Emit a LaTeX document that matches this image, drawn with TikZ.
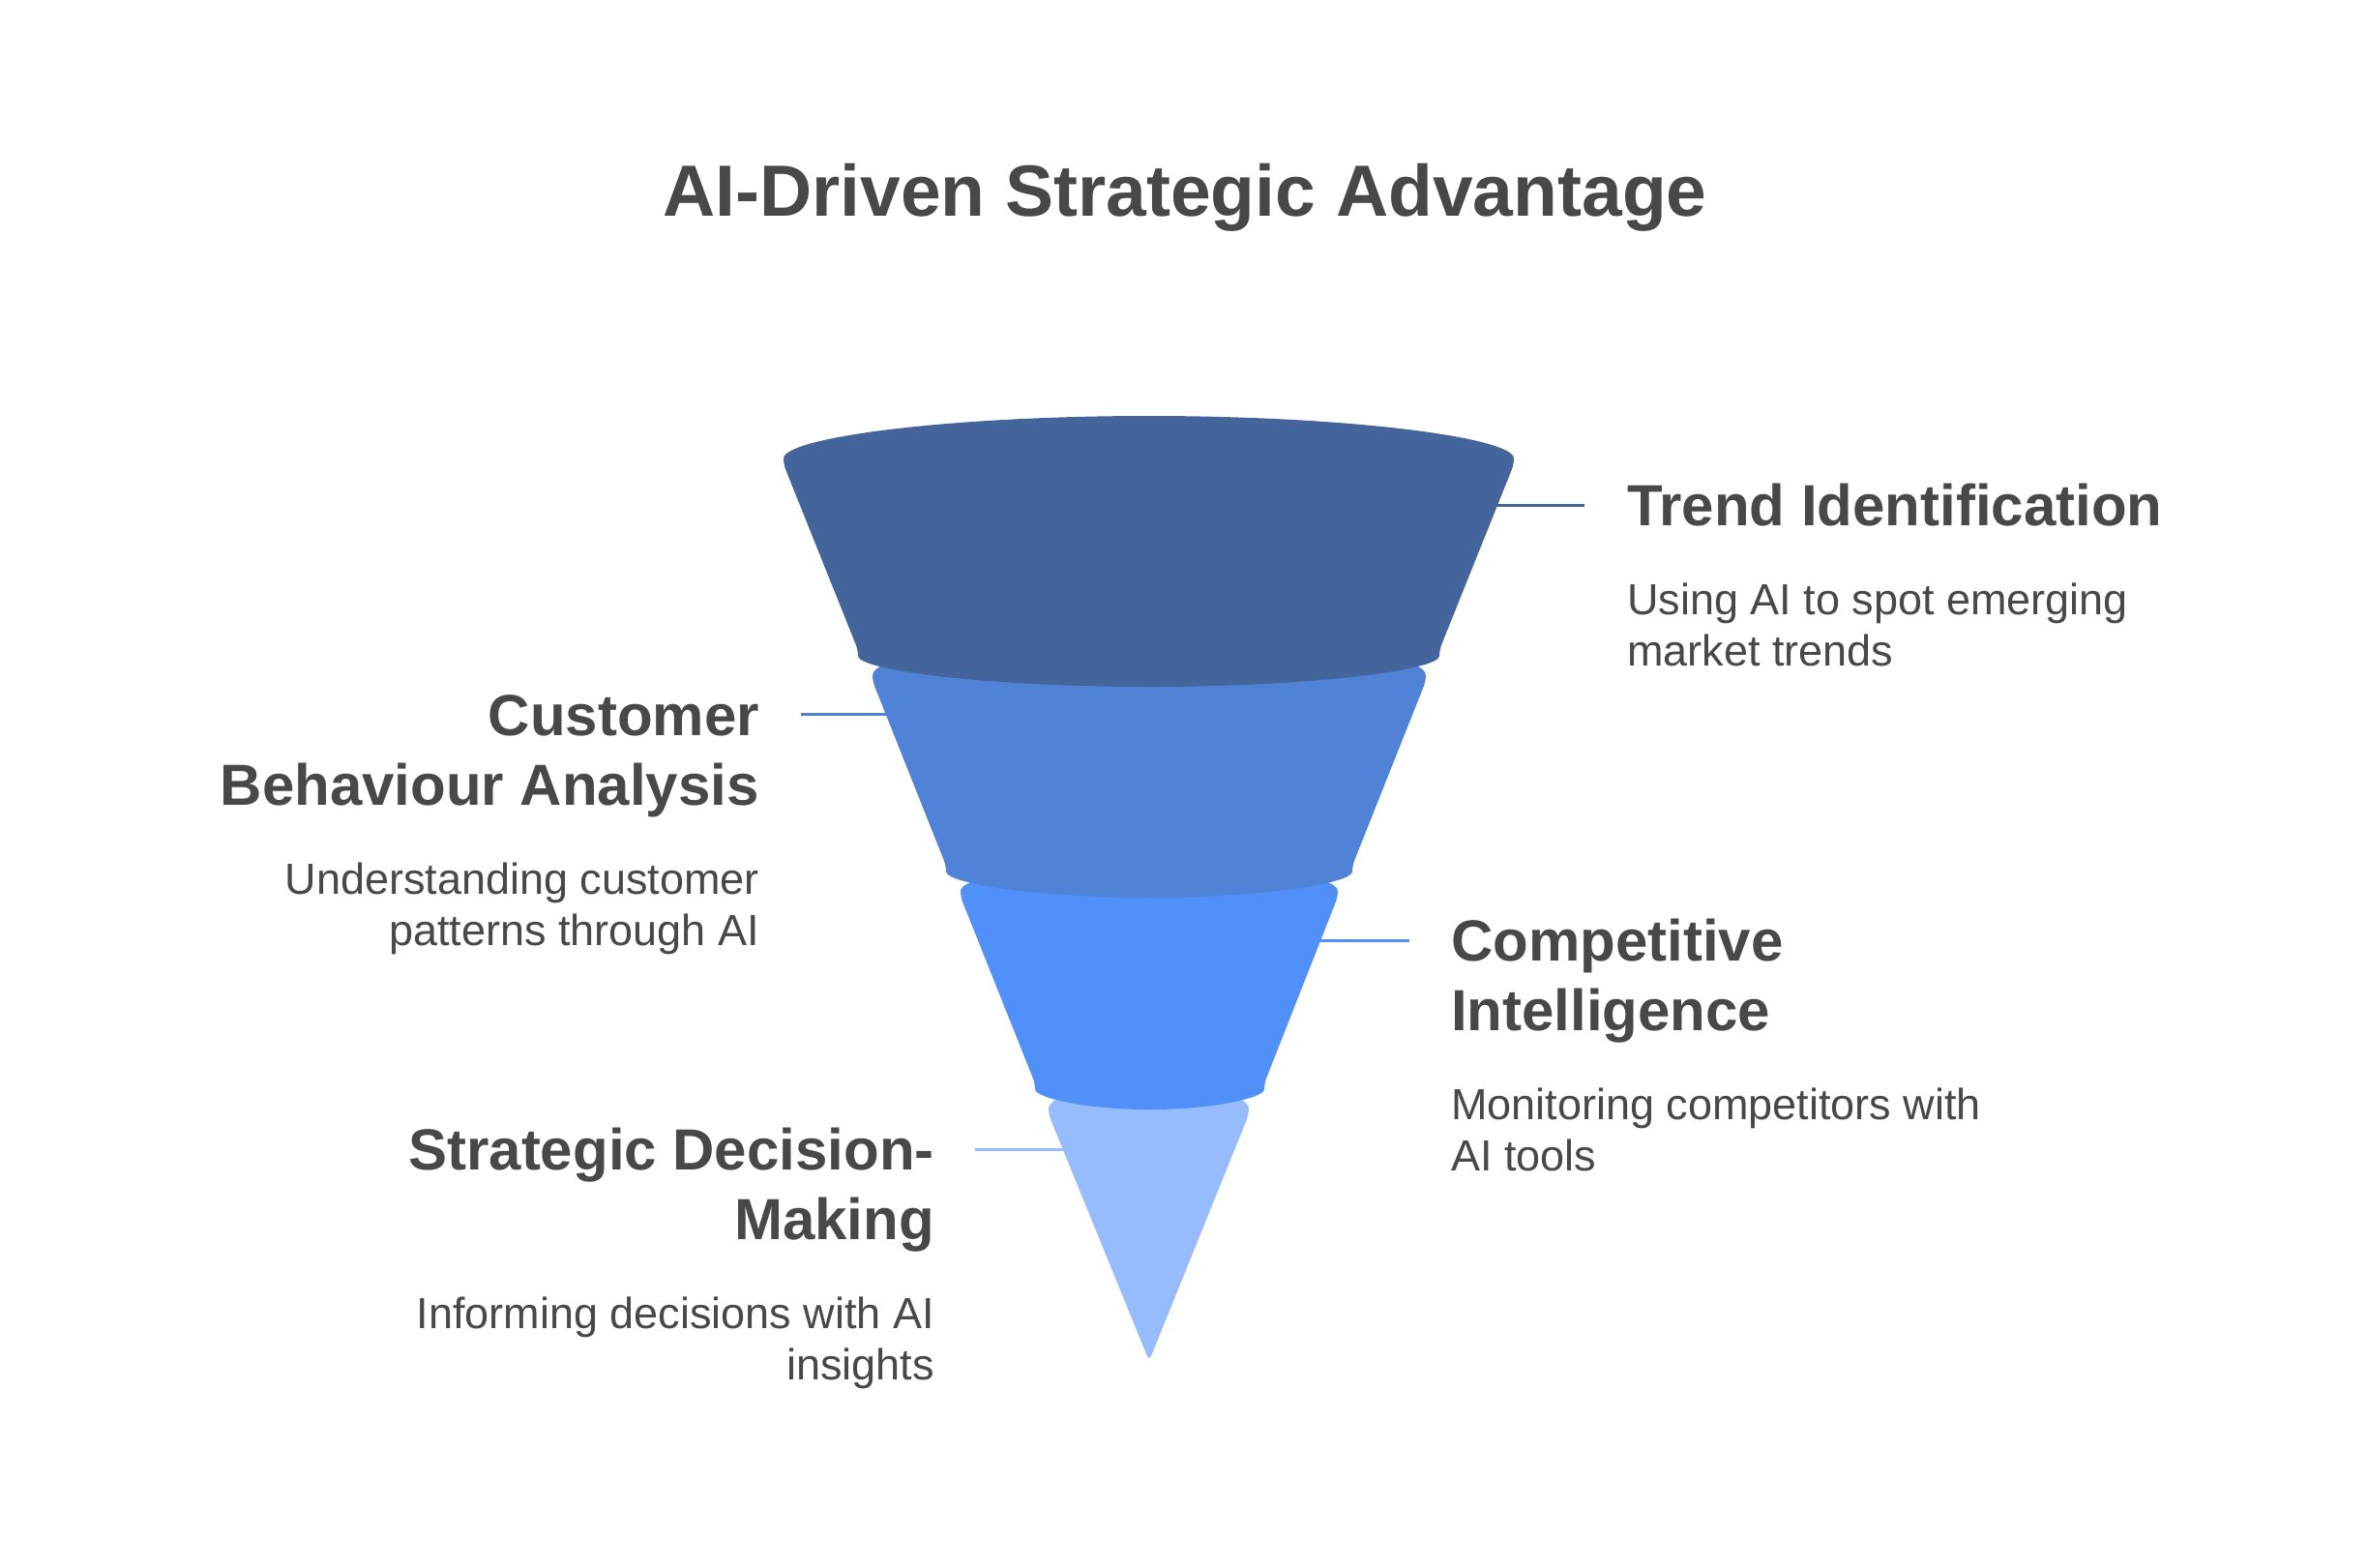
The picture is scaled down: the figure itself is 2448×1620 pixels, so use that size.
\documentclass[tikz,border=0pt]{standalone}
\usepackage{fontspec}
\setmainfont{Liberation Sans}
\usetikzlibrary{calc}
\definecolor{tgray}{HTML}{484848}
\definecolor{cone}{HTML}{43659B}
\definecolor{ctwo}{HTML}{5083D8}
\definecolor{cthree}{HTML}{5090F8}
\definecolor{cfour}{HTML}{97BCFE}
\begin{document}
\begin{tikzpicture}[x=1pt,y=1pt,
  titlestyle/.style={anchor=base,inner sep=0,text=tgray,font=\fontsize{75}{90}\selectfont\bfseries},
  headstyle/.style={inner sep=0,text=tgray,font=\fontsize{60}{72}\selectfont\bfseries},
  descstyle/.style={inner sep=0,text=tgray,font=\fontsize{45}{53}\selectfont},
  conn/.style={line width=3pt},
  segstyle/.style={rounded corners=6pt}]
\fill[white] (0,0) rectangle (2448,-1620);
\useasboundingbox (0,0) rectangle (2448,-1620);

% title
\node[titlestyle] (title) at (1225,-223) {AI-Driven Strategic Advantage};

% connector end points
\coordinate (c1a) at (1540,-522);  \coordinate (c1b) at (1638,-522);
\coordinate (c2a) at (922,-738);   \coordinate (c2b) at (828,-738);
\coordinate (c3a) at (1358,-972);  \coordinate (c3b) at (1457,-972);
\coordinate (c4a) at (1105,-1188); \coordinate (c4b) at (1008,-1188);

\draw[conn,cone]   (c1a) -- (c1b);
\draw[conn,ctwo]   (c2a) -- (c2b);
\draw[conn,cthree] (c3a) -- (c3b);
\draw[conn,cfour]  (c4a) -- (c4b);

% funnel segments (bottom first)
\fill[cfour,segstyle] (1084,-1152) arc[start angle=180,end angle=0,x radius=103.5pt,y radius=34pt]
  -- (1188,-1407) -- cycle;
\fill[cthree,segstyle] (993,-927) arc[start angle=180,end angle=0,x radius=195pt,y radius=37pt]
  -- (1307,-1120) arc[start angle=0,end angle=-180,x radius=118.5pt,y radius=27pt] -- cycle;
\fill[ctwo,segstyle] (902,-704) arc[start angle=180,end angle=0,x radius=286pt,y radius=48pt]
  -- (1398,-895) arc[start angle=0,end angle=-180,x radius=210pt,y radius=33pt] -- cycle;
\fill[cone,segstyle] (810,-480) arc[start angle=180,end angle=0,x radius=377.5pt,y radius=50pt]
  -- (1488,-672) arc[start angle=0,end angle=-180,x radius=300.5pt,y radius=38pt] -- cycle;

% texts
\node[headstyle,anchor=base west] (h1) at (1682,-543) {Trend Identification};
\node[descstyle,anchor=base west] (d1) at (1682,-635) {\begin{tabular}[t]{@{}l@{}}Using AI to spot emerging\\market trends\end{tabular}};

\node[headstyle,anchor=base east] (h2) at (785,-760) {\begin{tabular}[t]{@{}r@{}}Customer\\Behaviour Analysis\end{tabular}};
\node[descstyle,anchor=base east] (d2) at (785,-924) {\begin{tabular}[t]{@{}r@{}}Understanding customer\\patterns through AI\end{tabular}};

\node[headstyle,anchor=base west] (h3) at (1500,-993.5) {\begin{tabular}[t]{@{}l@{}}Competitive\\Intelligence\end{tabular}};
\node[descstyle,anchor=base west] (d3) at (1500,-1157.5) {\begin{tabular}[t]{@{}l@{}}Monitoring competitors with\\AI tools\end{tabular}};

\node[headstyle,anchor=base east] (h4) at (966,-1209.5) {\begin{tabular}[t]{@{}r@{}}Strategic Decision-\\Making\end{tabular}};
\node[descstyle,anchor=base east] (d4) at (966,-1373.5) {\begin{tabular}[t]{@{}r@{}}Informing decisions with AI\\insights\end{tabular}};
\end{tikzpicture}
\end{document}
